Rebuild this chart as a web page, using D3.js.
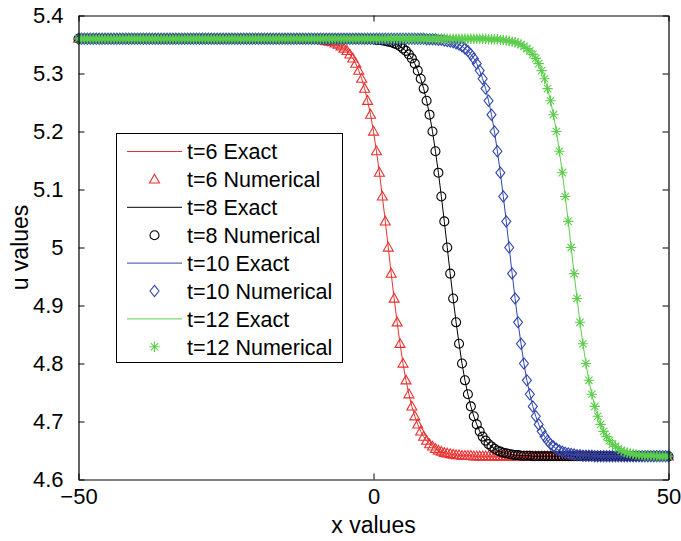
<!DOCTYPE html>
<html>
<head>
<meta charset="utf-8">
<script src="https://cdn.jsdelivr.net/npm/d3@7"></script>
<style>
  html, body { margin: 0; padding: 0; background: #ffffff; }
  svg { display: block; }
  text { font-family: "Liberation Sans", Arial, Helvetica, sans-serif; fill: #000; }
</style>
</head>
<body>
<svg id="chart" width="681" height="541"></svg>
<script>
// ---- data -------------------------------------------------------------
// sample positions along x (uniform grid, step 0.5)
const xGrid = d3.range(-50, 50.25, 0.5);

// u(x) at t = 6
const u6 = [
  5.36, 5.36, 5.36, 5.36, 5.36, 5.36, 5.36, 5.36, 5.36, 5.36,
  5.36, 5.36, 5.36, 5.36, 5.36, 5.36, 5.36, 5.36, 5.36, 5.36,
  5.36, 5.36, 5.36, 5.36, 5.36, 5.36, 5.36, 5.36, 5.36, 5.36,
  5.36, 5.36, 5.36, 5.36, 5.36, 5.36, 5.36, 5.36, 5.36, 5.36,
  5.36, 5.36, 5.36, 5.36, 5.36, 5.36, 5.36, 5.36, 5.36, 5.36,
  5.36, 5.36, 5.36, 5.36, 5.36, 5.36, 5.36, 5.36, 5.36, 5.36,
  5.36, 5.36, 5.36, 5.36, 5.36, 5.36, 5.36, 5.36, 5.36, 5.36,
  5.36, 5.36, 5.36, 5.36, 5.36, 5.36, 5.36,
  5.359, 5.359, 5.359, 5.359, 5.358, 5.358, 5.357, 5.356, 5.355, 5.354,
  5.352, 5.35, 5.347, 5.343, 5.339, 5.333, 5.326, 5.317, 5.305, 5.291,
  5.274, 5.253, 5.229, 5.2, 5.166, 5.129, 5.088, 5.045, 5,
  4.955, 4.912, 4.871, 4.834, 4.8, 4.771, 4.747, 4.726, 4.709, 4.695,
  4.683, 4.674, 4.667, 4.661, 4.657, 4.653, 4.65, 4.648, 4.646, 4.645,
  4.644, 4.643, 4.642, 4.642, 4.641, 4.641, 4.641, 4.641,
  4.64, 4.64, 4.64, 4.64, 4.64, 4.64, 4.64, 4.64, 4.64, 4.64,
  4.64, 4.64, 4.64, 4.64, 4.64, 4.64, 4.64, 4.64, 4.64, 4.64,
  4.64, 4.64, 4.64, 4.64, 4.64, 4.64, 4.64, 4.64, 4.64, 4.64,
  4.64, 4.64, 4.64, 4.64, 4.64, 4.64, 4.64, 4.64, 4.64, 4.64,
  4.64, 4.64, 4.64, 4.64, 4.64, 4.64, 4.64, 4.64, 4.64, 4.64,
  4.64, 4.64, 4.64, 4.64, 4.64, 4.64, 4.64, 4.64, 4.64, 4.64,
  4.64, 4.64, 4.64, 4.64, 4.64, 4.64, 4.64
];

// u(x) at t = 8
const u8 = [
  5.36, 5.36, 5.36, 5.36, 5.36, 5.36, 5.36, 5.36, 5.36, 5.36,
  5.36, 5.36, 5.36, 5.36, 5.36, 5.36, 5.36, 5.36, 5.36, 5.36,
  5.36, 5.36, 5.36, 5.36, 5.36, 5.36, 5.36, 5.36, 5.36, 5.36,
  5.36, 5.36, 5.36, 5.36, 5.36, 5.36, 5.36, 5.36, 5.36, 5.36,
  5.36, 5.36, 5.36, 5.36, 5.36, 5.36, 5.36, 5.36, 5.36, 5.36,
  5.36, 5.36, 5.36, 5.36, 5.36, 5.36, 5.36, 5.36, 5.36, 5.36,
  5.36, 5.36, 5.36, 5.36, 5.36, 5.36, 5.36, 5.36, 5.36, 5.36,
  5.36, 5.36, 5.36, 5.36, 5.36, 5.36, 5.36, 5.36, 5.36, 5.36,
  5.36, 5.36, 5.36, 5.36, 5.36, 5.36, 5.36, 5.36, 5.36, 5.36,
  5.36, 5.36, 5.36, 5.36, 5.36, 5.36, 5.36,
  5.359, 5.359, 5.359, 5.359, 5.358, 5.358, 5.357, 5.356, 5.355, 5.354,
  5.352, 5.35, 5.347, 5.343, 5.339, 5.333, 5.326, 5.317, 5.305, 5.291,
  5.274, 5.253, 5.229, 5.2, 5.166, 5.129, 5.088, 5.045, 5,
  4.955, 4.912, 4.871, 4.834, 4.8, 4.771, 4.747, 4.726, 4.709, 4.695,
  4.683, 4.674, 4.667, 4.661, 4.657, 4.653, 4.65, 4.648, 4.646, 4.645,
  4.644, 4.643, 4.642, 4.642, 4.641, 4.641, 4.641, 4.641,
  4.64, 4.64, 4.64, 4.64, 4.64, 4.64, 4.64, 4.64, 4.64, 4.64,
  4.64, 4.64, 4.64, 4.64, 4.64, 4.64, 4.64, 4.64, 4.64, 4.64,
  4.64, 4.64, 4.64, 4.64, 4.64, 4.64, 4.64, 4.64, 4.64, 4.64,
  4.64, 4.64, 4.64, 4.64, 4.64, 4.64, 4.64, 4.64, 4.64, 4.64,
  4.64, 4.64, 4.64, 4.64, 4.64, 4.64, 4.64
];

// u(x) at t = 10
const u10 = [
  5.36, 5.36, 5.36, 5.36, 5.36, 5.36, 5.36, 5.36, 5.36, 5.36,
  5.36, 5.36, 5.36, 5.36, 5.36, 5.36, 5.36, 5.36, 5.36, 5.36,
  5.36, 5.36, 5.36, 5.36, 5.36, 5.36, 5.36, 5.36, 5.36, 5.36,
  5.36, 5.36, 5.36, 5.36, 5.36, 5.36, 5.36, 5.36, 5.36, 5.36,
  5.36, 5.36, 5.36, 5.36, 5.36, 5.36, 5.36, 5.36, 5.36, 5.36,
  5.36, 5.36, 5.36, 5.36, 5.36, 5.36, 5.36, 5.36, 5.36, 5.36,
  5.36, 5.36, 5.36, 5.36, 5.36, 5.36, 5.36, 5.36, 5.36, 5.36,
  5.36, 5.36, 5.36, 5.36, 5.36, 5.36, 5.36, 5.36, 5.36, 5.36,
  5.36, 5.36, 5.36, 5.36, 5.36, 5.36, 5.36, 5.36, 5.36, 5.36,
  5.36, 5.36, 5.36, 5.36, 5.36, 5.36, 5.36, 5.36, 5.36, 5.36,
  5.36, 5.36, 5.36, 5.36, 5.36, 5.36, 5.36, 5.36, 5.36, 5.36,
  5.36, 5.36, 5.36, 5.36, 5.36, 5.36, 5.36, 5.36,
  5.359, 5.359, 5.359, 5.359, 5.358, 5.358, 5.357, 5.356, 5.355, 5.354,
  5.352, 5.35, 5.347, 5.343, 5.339, 5.333, 5.326, 5.317, 5.305, 5.291,
  5.274, 5.253, 5.229, 5.2, 5.166, 5.129, 5.088, 5.045, 5,
  4.955, 4.912, 4.871, 4.834, 4.8, 4.771, 4.747, 4.726, 4.709, 4.695,
  4.683, 4.674, 4.667, 4.661, 4.657, 4.653, 4.65, 4.648, 4.646, 4.645,
  4.644, 4.643, 4.642, 4.642, 4.641, 4.641, 4.641, 4.641,
  4.64, 4.64, 4.64, 4.64, 4.64, 4.64, 4.64, 4.64, 4.64, 4.64,
  4.64, 4.64, 4.64, 4.64, 4.64, 4.64, 4.64, 4.64, 4.64, 4.64,
  4.64, 4.64, 4.64, 4.64, 4.64, 4.64
];

// u(x) at t = 12
const u12 = [
  5.36, 5.36, 5.36, 5.36, 5.36, 5.36, 5.36, 5.36, 5.36, 5.36,
  5.36, 5.36, 5.36, 5.36, 5.36, 5.36, 5.36, 5.36, 5.36, 5.36,
  5.36, 5.36, 5.36, 5.36, 5.36, 5.36, 5.36, 5.36, 5.36, 5.36,
  5.36, 5.36, 5.36, 5.36, 5.36, 5.36, 5.36, 5.36, 5.36, 5.36,
  5.36, 5.36, 5.36, 5.36, 5.36, 5.36, 5.36, 5.36, 5.36, 5.36,
  5.36, 5.36, 5.36, 5.36, 5.36, 5.36, 5.36, 5.36, 5.36, 5.36,
  5.36, 5.36, 5.36, 5.36, 5.36, 5.36, 5.36, 5.36, 5.36, 5.36,
  5.36, 5.36, 5.36, 5.36, 5.36, 5.36, 5.36, 5.36, 5.36, 5.36,
  5.36, 5.36, 5.36, 5.36, 5.36, 5.36, 5.36, 5.36, 5.36, 5.36,
  5.36, 5.36, 5.36, 5.36, 5.36, 5.36, 5.36, 5.36, 5.36, 5.36,
  5.36, 5.36, 5.36, 5.36, 5.36, 5.36, 5.36, 5.36, 5.36, 5.36,
  5.36, 5.36, 5.36, 5.36, 5.36, 5.36, 5.36, 5.36, 5.36, 5.36,
  5.36, 5.36, 5.36, 5.36, 5.36, 5.36, 5.36, 5.36, 5.36, 5.36,
  5.36, 5.36, 5.36, 5.36, 5.36, 5.36, 5.36, 5.36, 5.36,
  5.359, 5.359, 5.359, 5.359, 5.358, 5.358, 5.357, 5.356, 5.355, 5.354,
  5.352, 5.35, 5.347, 5.343, 5.339, 5.333, 5.326, 5.317, 5.305, 5.291,
  5.274, 5.253, 5.229, 5.2, 5.166, 5.129, 5.088, 5.045, 5,
  4.955, 4.912, 4.871, 4.834, 4.8, 4.771, 4.747, 4.726, 4.709, 4.695,
  4.683, 4.674, 4.667, 4.661, 4.657, 4.653, 4.65, 4.648, 4.646, 4.645,
  4.644, 4.643, 4.642, 4.642, 4.641, 4.641, 4.641, 4.641,
  4.64, 4.64, 4.64, 4.64, 4.64
];

const seriesNames = ["t=6", "t=8", "t=10", "t=12"];
const seriesColors = ["#e8312f", "#000000", "#2f45ad", "#5dce4c"];
const seriesMarkers = ["triangle", "circle", "diamond", "star"];
const seriesValues = [u6, u8, u10, u12];

const xTicks = [-50, 0, 50];
const xTickLabels = ["\u221250", "0", "50"];
const yTicks = [4.6, 4.7, 4.8, 4.9, 5.0, 5.1, 5.2, 5.3, 5.4];
const yTickLabels = ["4.6", "4.7", "4.8", "4.9", "5", "5.1", "5.2", "5.3", "5.4"];

// ---- layout -----------------------------------------------------------
const svg = d3.select("#chart");
const plot = { left: 78.5, right: 668.5, top: 15.5, bottom: 479.5 };

const x = d3.scaleLinear().domain([-50, 50]).range([plot.left, plot.right]);
const y = d3.scaleLinear().domain([4.6, 5.4]).range([plot.bottom, plot.top]);

// ---- marker shapes ----------------------------------------------------
function markerPath(kind) {
  switch (kind) {
    case "triangle": return "M0,-5.2L5,3.6L-5,3.6Z";
    case "circle":   return d3.arc()({innerRadius: 0, outerRadius: 4.5, startAngle: 0, endAngle: 2 * Math.PI});
    case "diamond":  return "M0,-5.6L4.5,0L0,5.6L-4.5,0Z";
    case "star": {
      const r = 5.2, d = r * Math.SQRT1_2;
      return `M${-r},0L${r},0M0,${-r}L0,${r}M${-d},${-d}L${d},${d}M${-d},${d}L${d},${-d}`;
    }
  }
}

// ---- curves and markers -----------------------------------------------
const plotArea = svg.append("g");
const line = d3.line().x(d => x(d[0])).y(d => y(d[1]));

seriesValues.forEach((vals, s) => {
  const pts = vals.map((v, i) => [xGrid[i], v]);
  // exact solution curve
  plotArea.append("path")
    .datum(pts)
    .attr("d", line)
    .attr("fill", "none")
    .attr("stroke", seriesColors[s])
    .attr("stroke-width", 1);
  // numerical solution markers
  plotArea.append("g")
    .selectAll("path")
    .data(pts)
    .join("path")
    .attr("transform", d => `translate(${x(d[0])},${y(d[1])})`)
    .attr("d", markerPath(seriesMarkers[s]))
    .attr("fill", "none")
    .attr("stroke", seriesColors[s])
    .attr("stroke-width", 1.1);
});

// ---- axes (box with inward ticks) -------------------------------------
function styleAxis(g) {
  g.selectAll("path.domain").attr("stroke", "#000").attr("stroke-width", 1.2);
  g.selectAll(".tick line").attr("stroke", "#000").attr("stroke-width", 1);
  g.selectAll(".tick text").attr("fill", "#000")
    .style("font-family", "'Liberation Sans', Arial, sans-serif")
    .style("font-size", "22px");
}

svg.append("g")
  .attr("transform", `translate(0,${plot.bottom})`)
  .call(d3.axisBottom(x).tickValues(xTicks).tickSize(-6).tickSizeOuter(0)
    .tickPadding(9).tickFormat((d, i) => xTickLabels[i]))
  .call(styleAxis)
  .call(g => g.selectAll(".tick text").attr("dy", "0.72em"));

svg.append("g")
  .attr("transform", `translate(0,${plot.top})`)
  .call(d3.axisTop(x).tickValues(xTicks).tickSize(-6).tickSizeOuter(0).tickFormat(""))
  .call(styleAxis);

svg.append("g")
  .attr("transform", `translate(${plot.left},0)`)
  .call(d3.axisLeft(y).tickValues(yTicks).tickSize(-6).tickSizeOuter(0)
    .tickPadding(15).tickFormat((d, i) => yTickLabels[i]))
  .call(styleAxis);

svg.append("g")
  .attr("transform", `translate(${plot.right},0)`)
  .call(d3.axisRight(y).tickValues(yTicks).tickSize(-6).tickSizeOuter(0).tickFormat(""))
  .call(styleAxis);

// axis titles
svg.append("text")
  .attr("x", (plot.left + plot.right) / 2)
  .attr("y", 533)
  .attr("text-anchor", "middle")
  .style("font-size", "23px")
  .text("x values");

svg.append("text")
  .attr("transform", `translate(28,${(plot.top + plot.bottom) / 2}) rotate(-90)`)
  .attr("text-anchor", "middle")
  .style("font-size", "23px")
  .text("u values");

// ---- legend -----------------------------------------------------------
const legend = svg.append("g");
legend.append("rect")
  .attr("x", 116.5).attr("y", 133.5)
  .attr("width", 226).attr("height", 229)
  .attr("fill", "#fff").attr("stroke", "#000").attr("stroke-width", 1);

const legendRows = [];
seriesNames.forEach((name, s) => {
  legendRows.push({ label: name + " Exact", s, kind: "line" });
  legendRows.push({ label: name + " Numerical", s, kind: "marker" });
});

legendRows.forEach((r, i) => {
  const cy = 151.5 + i * 27.9;
  if (r.kind === "line") {
    legend.append("line")
      .attr("x1", 127).attr("x2", 182)
      .attr("y1", cy).attr("y2", cy)
      .attr("stroke", seriesColors[r.s]).attr("stroke-width", 1);
  } else {
    legend.append("path")
      .attr("transform", `translate(154.5,${cy})`)
      .attr("d", markerPath(seriesMarkers[r.s]))
      .attr("fill", "none")
      .attr("stroke", seriesColors[r.s]).attr("stroke-width", 1.1);
  }
  legend.append("text")
    .attr("x", 187)
    .attr("y", cy)
    .attr("dy", "0.36em")
    .style("font-size", "21.5px")
    .text(r.label);
});
</script>
</body>
</html>
